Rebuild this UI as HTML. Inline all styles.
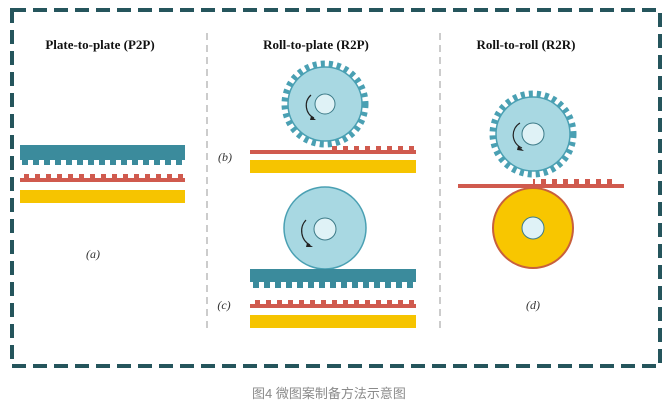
<!DOCTYPE html>
<html><head><meta charset="utf-8"><style>
html,body{margin:0;padding:0;background:#fff;width:667px;height:404px;overflow:hidden}
svg{display:block}
</style></head><body>
<svg width="667" height="404" viewBox="0 0 667 404" xmlns="http://www.w3.org/2000/svg">
<defs>
<pattern id="teethT" x="0" y="0" width="11" height="10" patternUnits="userSpaceOnUse">
<rect x="0" y="0" width="6" height="10" fill="#3b8b9c"/></pattern>
<pattern id="bumpR" x="0" y="0" width="11" height="10" patternUnits="userSpaceOnUse">
<rect x="2" y="0" width="5" height="10" fill="#d05a4e"/></pattern>
</defs>
<rect x="12" y="10" width="648" height="356" fill="none" stroke="#25555c" stroke-width="4" stroke-dasharray="14 7"/>
<g font-family="Liberation Serif, serif" font-weight="bold" font-size="13" fill="#111" text-anchor="middle">
<text x="100" y="49">Plate-to-plate (P2P)</text>
<text x="316" y="49">Roll-to-plate (R2P)</text>
<text x="526" y="49">Roll-to-roll (R2R)</text>
</g>
<line x1="207" y1="33" x2="207" y2="330" stroke="#999" stroke-width="1" stroke-dasharray="7 5"/>
<line x1="440" y1="33" x2="440" y2="330" stroke="#999" stroke-width="1" stroke-dasharray="7 5"/>
<g font-family="Liberation Serif, serif" font-style="italic" font-size="12" fill="#333" text-anchor="middle">
<text x="93" y="258">(a)</text>
<text x="225" y="161">(b)</text>
<text x="224" y="309">(c)</text>
<text x="533" y="309">(d)</text>
</g>
<!-- P2P -->
<rect x="20" y="145" width="165" height="15" fill="#3b8b9c"/>
<rect x="20" y="159" width="165" height="6" fill="url(#teethT)"/>
<rect x="20" y="178" width="165" height="4" fill="#d05a4e"/>
<rect x="20" y="174" width="165" height="4" fill="url(#bumpR)"/>
<rect x="20" y="190" width="165" height="13" fill="#f6c400"/>
<!-- R2P top -->
<circle cx="325" cy="104" r="40" fill="none" stroke="#4aa0b3" stroke-width="7" stroke-dasharray="4 4"/>
<circle cx="325" cy="104" r="37" fill="#a8d8e2" stroke="#4aa0b3" stroke-width="1.5"/>
<circle cx="325" cy="104" r="10" fill="#dff2f6" stroke="#3d7b88" stroke-width="1"/>
<path d="M311 95 A14 14 0 0 0 314 118" fill="none" stroke="#222" stroke-width="1.2"/>
<path d="M311 116 L316 120 L310 120 Z" fill="#222"/>
<rect x="250" y="150" width="166" height="4" fill="#d05a4e"/>
<rect x="330" y="146" width="86" height="4" fill="url(#bumpR)"/>
<rect x="250" y="160" width="166" height="13" fill="#f6c400"/>
<!-- R2P bottom -->
<circle cx="325" cy="228" r="41" fill="#a8d8e2" stroke="#4aa0b3" stroke-width="1.5"/>
<circle cx="325" cy="229" r="11" fill="#dff2f6" stroke="#3d7b88" stroke-width="1"/>
<path d="M306 220 A16 16 0 0 0 310 245" fill="none" stroke="#222" stroke-width="1.2"/>
<path d="M307 243 L313 247 L306 247 Z" fill="#222"/>
<rect x="250" y="269" width="166" height="13" fill="#3b8b9c"/>
<rect x="250" y="281" width="166" height="7" fill="url(#teethT)"/>
<rect x="250" y="304" width="166" height="4" fill="#d05a4e"/>
<rect x="250" y="300" width="166" height="4" fill="url(#bumpR)"/>
<rect x="250" y="315" width="166" height="13" fill="#f6c400"/>
<!-- R2R -->
<circle cx="533" cy="134" r="40" fill="none" stroke="#4aa0b3" stroke-width="7" stroke-dasharray="4 4"/>
<circle cx="533" cy="134" r="37" fill="#a8d8e2" stroke="#4aa0b3" stroke-width="1.5"/>
<circle cx="533" cy="134" r="11" fill="#dff2f6" stroke="#3d7b88" stroke-width="1"/>
<path d="M520 123 A14 14 0 0 0 522 148" fill="none" stroke="#222" stroke-width="1.2"/>
<path d="M518 146 L524 151 L517 150 Z" fill="#222"/>
<circle cx="533" cy="228" r="40" fill="#f8c600" stroke="#c8603c" stroke-width="2"/>
<circle cx="533" cy="228" r="11" fill="#dff2f6" stroke="#3d7b88" stroke-width="1"/>
<rect x="458" y="184" width="166" height="4" fill="#d05a4e"/>
<rect x="533" y="179" width="80" height="5" fill="url(#bumpR)"/>
<text x="252" y="398" font-family="Liberation Sans, 'Noto Sans CJK SC', sans-serif" font-size="13" fill="#8a8a8a">图4 微图案制备方法示意图</text>
</svg>
</body></html>
